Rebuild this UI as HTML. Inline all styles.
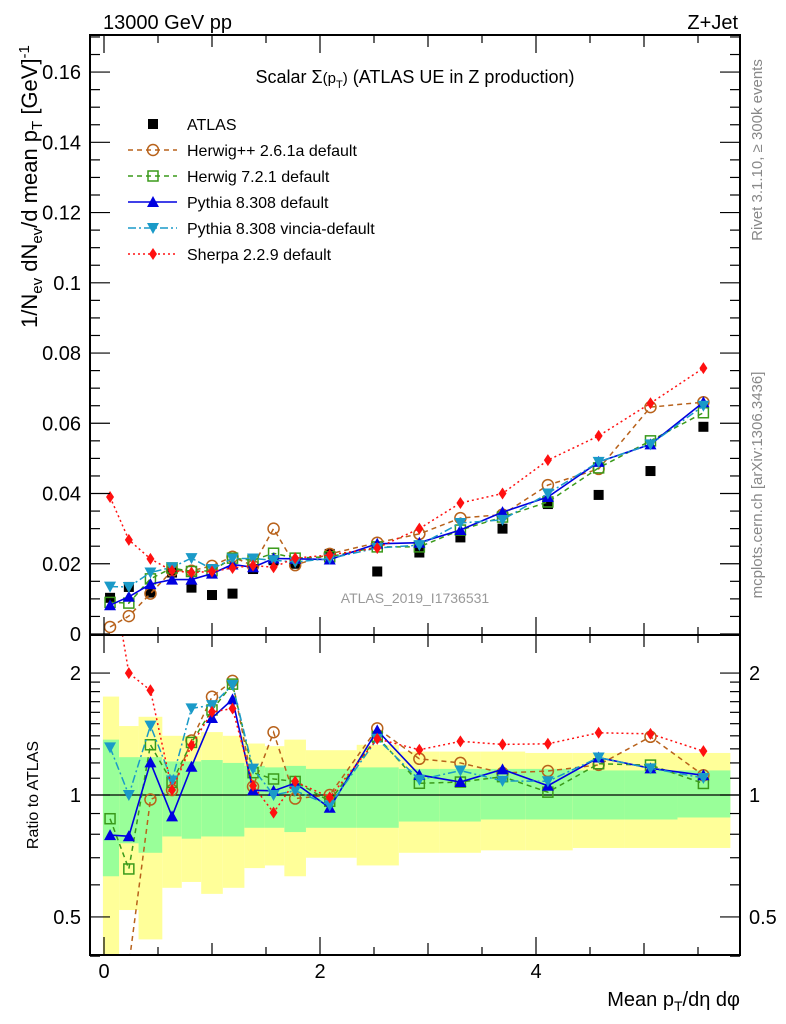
<!DOCTYPE html>
<html><head><meta charset="utf-8"><style>
html,body{margin:0;padding:0;background:#fff;width:786px;height:1024px;overflow:hidden;}
svg{display:block;font-family:"Liberation Sans",Arial,sans-serif;}
</style></head><body>
<svg id="c" width="786" height="1024" viewBox="0 0 786 1024" xmlns="http://www.w3.org/2000/svg">
<text x="103" y="29" font-size="20">13000 GeV pp</text>
<text x="738" y="29" font-size="20" text-anchor="end">Z+Jet</text>
<text x="415" y="83" font-size="18" text-anchor="middle">Scalar Σ<tspan font-size="15">(p</tspan><tspan font-size="11" dy="5">T</tspan><tspan font-size="15" dy="-5">)</tspan> (ATLAS UE in Z production)</text>
<text x="415" y="603" font-size="14" fill="#999" text-anchor="middle">ATLAS_2019_I1736531</text>
<text transform="translate(762,150) rotate(-90)" font-size="15" fill="#888" text-anchor="middle">Rivet 3.1.10, ≥ 300k events</text>
<text transform="translate(762,485) rotate(-90)" font-size="15" fill="#888" text-anchor="middle">mcplots.cern.ch [arXiv:1306.3436]</text>
<text transform="translate(37,328) rotate(-90)" font-size="22">1/N<tspan font-size="15" dy="5">ev</tspan><tspan dy="-5"> dN</tspan><tspan font-size="15" dy="5">ev</tspan><tspan dy="-5">/d mean p</tspan><tspan font-size="15" dy="5">T</tspan><tspan dy="-5">  [GeV]</tspan><tspan font-size="15" dy="-8">-1</tspan></text>
<text transform="translate(38,795) rotate(-90)" font-size="16" text-anchor="middle">Ratio to ATLAS</text>
<text x="740" y="1006" font-size="20" text-anchor="end">Mean p<tspan font-size="14" dy="5">T</tspan><tspan dy="-5">/dη dφ</tspan></text>
</svg>
<script>
const xs=[0.056,0.23,0.43,0.63,0.81,1.0,1.19,1.38,1.57,1.77,2.09,2.53,2.92,3.30,3.69,4.11,4.58,5.06,5.55];
const atlas=[0.0103,0.0134,0.0118,0.0175,0.0132,0.0111,0.0115,0.0185,0.021,0.020,0.0228,0.0178,0.0232,0.0275,0.030,0.037,0.0396,0.0464,0.059];
const herwigpp=[0.002,0.0051,0.0115,0.018,0.018,0.0194,0.022,0.0194,0.030,0.0196,0.0228,0.026,0.0285,0.033,0.034,0.0424,0.047,0.0646,0.066];
const herwig7=[0.009,0.0088,0.0157,0.0188,0.0178,0.018,0.0216,0.021,0.023,0.0216,0.022,0.0248,0.0248,0.0296,0.0333,0.0376,0.0473,0.055,0.063];
const pythia=[0.0082,0.0106,0.0142,0.0155,0.0155,0.0172,0.0198,0.019,0.0215,0.0214,0.0212,0.0257,0.026,0.0296,0.0347,0.039,0.049,0.054,0.066];
const vincia=[0.0135,0.0134,0.0175,0.019,0.0216,0.0185,0.0215,0.0215,0.021,0.0205,0.0215,0.0245,0.0253,0.0316,0.0325,0.040,0.049,0.054,0.065];
const sherpa=[0.039,0.0268,0.0214,0.018,0.0175,0.0178,0.0188,0.0195,0.019,0.0216,0.0225,0.0245,0.030,0.0373,0.040,0.0495,0.0564,0.0657,0.0757];
const binEdges=[-0.01,0.14,0.32,0.54,0.72,0.90,1.10,1.30,1.49,1.67,1.87,2.34,2.73,3.11,3.49,3.90,4.34,4.82,5.31,5.80];
const yellowHi=[1.75,1.48,1.56,1.40,1.40,1.43,1.40,1.34,1.32,1.37,1.29,1.33,1.28,1.28,1.28,1.27,1.27,1.27,1.27];
const yellowLo=[0.35,0.52,0.44,0.59,0.61,0.57,0.59,0.66,0.67,0.63,0.70,0.67,0.72,0.72,0.73,0.73,0.74,0.74,0.74];
const greenHi=[1.37,1.24,1.24,1.21,1.21,1.22,1.20,1.18,1.17,1.18,1.16,1.17,1.16,1.16,1.16,1.16,1.15,1.15,1.15];
const greenLo=[0.63,0.76,0.72,0.79,0.78,0.79,0.79,0.83,0.83,0.81,0.83,0.83,0.86,0.86,0.87,0.87,0.87,0.87,0.88];
const mainTicks=[0,0.02,0.04,0.06,0.08,0.1,0.12,0.14,0.16];
const mainTickLabels=["0","0.02","0.04","0.06","0.08","0.1","0.12","0.14","0.16"];
const ratioTicks=[0.5,1,2];
const ratioTickLabels=["0.5","1","2"];
const xTicks=[0,2,4];
const xTickLabels=["0","2","4"];

const NS="http://www.w3.org/2000/svg";
const svg=document.getElementById('c');
const L=90,R=740,T=35,M=635,B=955;
const X=v=>104+v*108;
const Y=v=>634-v*3512;
const RY=v=>795-Math.log10(v)*405;
function mk(tag,attrs,parent){const e=document.createElementNS(NS,tag);for(const k in attrs)e.setAttribute(k,attrs[k]);(parent||svg).appendChild(e);return e;}

const bands=mk('g',{});


const clipR=mk('clipPath',{id:'cr'});mk('rect',{x:L,y:M,width:R-L,height:B-M},clipR);
const clipM=mk('clipPath',{id:'cm'});mk('rect',{x:L,y:T,width:R-L,height:M-T},clipM);
bands.setAttribute('clip-path','url(#cr)');
for(let i=0;i<xs.length;i++){
  const x0=X(binEdges[i]),x1=X(binEdges[i+1]);
  const yb=mk('rect',{x:x0,y:RY(yellowHi[i]),width:x1-x0,height:RY(yellowLo[i])-RY(yellowHi[i]),fill:'#ffff99'},bands);
  
  
  const gb=mk('rect',{x:x0,y:RY(greenHi[i]),width:x1-x0,height:RY(greenLo[i])-RY(greenHi[i]),fill:'#99ff99'},bands);
  
  
}
const one=mk('line',{x1:L,x2:R,y1:RY(1),y2:RY(1),stroke:'#000','stroke-width':1.2});



const series=[
 {name:'herwigpp',label:'Herwig++ 2.6.1a default',v:herwigpp,color:'#b8621b',dash:'5,4',mk:'circle'},
 {name:'herwig7',label:'Herwig 7.2.1 default',v:herwig7,color:'#3a9a1a',dash:'5,4',mk:'square'},
 {name:'pythia',label:'Pythia 8.308 default',v:pythia,color:'#0000e0',dash:'',mk:'up'},
 {name:'vincia',label:'Pythia 8.308 vincia-default',v:vincia,color:'#1a9ac8',dash:'8,3,2,3',mk:'down'},
 {name:'sherpa',label:'Sherpa 2.2.9 default',v:sherpa,color:'#ff1010',dash:'2,3',mk:'diamond'}
];
function marker(g,type,x,y,c){
  let e;
  if(type==='circle')e=mk('circle',{cx:x,cy:y,r:5.5,fill:'none',stroke:c,'stroke-width':1.5},g);
  else if(type==='square')e=mk('rect',{x:x-5,y:y-5,width:10,height:10,fill:'none',stroke:c,'stroke-width':1.5},g);
  else if(type==='up')e=mk('path',{d:`M${x},${y-6}L${x+6},${y+5}L${x-6},${y+5}Z`,fill:c},g);
  else if(type==='down')e=mk('path',{d:`M${x},${y+6}L${x+6},${y-5}L${x-6},${y-5}Z`,fill:c},g);
  else if(type==='diamond')e=mk('path',{d:`M${x},${y-6}L${x+4},${y}L${x},${y+6}L${x-4},${y}Z`,fill:c},g);
  else e=mk('rect',{x:x-5,y:y-5,width:10,height:10,fill:c},g);
  return e;
}
function drawSeries(s,panel){
  const g=mk('g',{'clip-path':panel==='main'?'url(#cm)':'url(#cr)'});
  
  
  const pts=xs.map((x,i)=>[X(x),panel==='main'?Y(s.v[i]):RY(s.v[i]/atlas[i])]);
  const ln=mk('polyline',{points:pts.map(p=>p.join(',')).join(' '),fill:'none',stroke:s.color,'stroke-width':s.dash?1.5:1.6,'stroke-dasharray':s.dash},g);
  
  
  pts.forEach((p,i)=>{
    const e=marker(g,s.mk,p[0],p[1],s.color);
    
    
  });
}
const ag=mk('g',{'clip-path':'url(#cm)'});


xs.forEach((x,i)=>{
  const e=marker(ag,'sq',X(x),Y(atlas[i]),'#000');
  
  
});
series.forEach(s=>{drawSeries(s,'main');drawSeries(s,'ratio');});

const f1=mk('rect',{x:L,y:T,width:R-L,height:M-T,fill:'none',stroke:'#000','stroke-width':2});


const f2=mk('rect',{x:L,y:M,width:R-L,height:B-M,fill:'none',stroke:'#000','stroke-width':2});



const tg=mk('g',{stroke:'#000','stroke-width':1.2});


for(let k=0;k<=34;k++){const v=k*0.005,y=Y(v);if(y<T)break;const len=(k%4===0)?20:10;
  mk('line',{x1:L,x2:L+len,y1:y,y2:y},tg);mk('line',{x1:R,x2:R-len,y1:y,y2:y},tg);}
for(let k=0;k<=11;k++){const v=k*0.5,x=X(v);const len=(k%4===0)?18:(k%2===0?12:8);
  mk('line',{x1:x,x2:x,y1:T,y2:T+len},tg);mk('line',{x1:x,x2:x,y1:M,y2:M-len},tg);
  mk('line',{x1:x,x2:x,y1:M,y2:M+len},tg);mk('line',{x1:x,x2:x,y1:B,y2:B-len},tg);}
const rt=[0.4,0.5,0.6,0.7,0.8,0.9,1,1.1,1.2,1.3,1.4,1.5,1.6,1.7,1.8,1.9,2];
rt.forEach(v=>{const y=RY(v);const len=(v===0.5||v===1||v===2)?20:10;
  mk('line',{x1:L,x2:L+len,y1:y,y2:y},tg);mk('line',{x1:R,x2:R-len,y1:y,y2:y},tg);});
const lg=mk('g',{'font-size':20});


mainTicks.forEach((v,i)=>{const t=mk('text',{x:81,y:Y(v)+7,'text-anchor':'end'},lg);t.textContent=mainTickLabels[i];
  });
ratioTicks.forEach((v,i)=>{
  const t=mk('text',{x:81,y:RY(v)+7,'text-anchor':'end'},lg);t.textContent=ratioTickLabels[i];
  
  const t2=mk('text',{x:749,y:RY(v)+7},lg);t2.textContent=ratioTickLabels[i];
  });
xTicks.forEach((v,i)=>{const t=mk('text',{x:X(v),y:978,'text-anchor':'middle'},lg);t.textContent=xTickLabels[i];
  });

const leg=mk('g',{'font-size':16});


const rows=[{label:'ATLAS',mk:'sq',color:'#000',dash:null}].concat(series);
rows.forEach((s,i)=>{
  const y=124+i*26;
  const g=mk('g',{},leg);
  
  
  if(s.dash!==null)mk('line',{x1:128,x2:177,y1:y,y2:y,stroke:s.color,'stroke-width':1.5,'stroke-dasharray':s.dash},g);
  marker(g,s.mk,153,y,s.color);
  const t=mk('text',{x:187,y:y+6},g);t.textContent=s.label;
});
</script>
</body></html>
